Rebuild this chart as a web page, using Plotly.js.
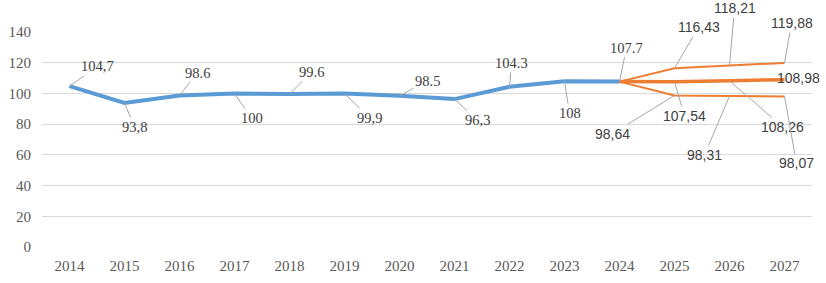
<!DOCTYPE html>
<html>
<head>
<meta charset="utf-8">
<script src="https://cdn.plot.ly/plotly-3.0.1.min.js"></script>
<style>html,body{margin:0;padding:0;background:#fff;}#chart{width:826px;height:283px;}</style>
</head>
<body>
<div id="chart"></div>
<script>
// ---- data ----
const years = ['2014','2015','2016','2017','2018','2019','2020','2021','2022','2023','2024','2025','2026','2027'];
const histYears = ['2014','2015','2016','2017','2018','2019','2020','2021','2022','2023','2024'];
const histValues = [104.7, 93.8, 98.6, 100, 99.6, 99.9, 98.5, 96.3, 104.3, 108, 107.7];
const histLabels = ['104,7','93,8','98.6','100','99.6','99,9','98.5','96,3','104.3','108','107.7'];
const fcYears = ['2024','2025','2026','2027'];
const fcHigh = [107.7, 116.43, 118.21, 119.88];
const fcMid = [107.7, 107.54, 108.26, 108.98];
const fcLow = [107.7, 98.64, 98.31, 98.07];
const fcHighLabels = ['116,43','118,21','119,88'];
const fcMidLabels = ['107,54','108,26','108,98'];
const fcLowLabels = ['98,64','98,31','98,07'];
const yTicks = [0,20,40,60,80,100,120,140];
const yGrid = [0,20,40,60,80,100,120];

// ---- label offsets (style) ----
const histOffsets = [[28,-20],[10,24],[18,-23],[17,25],[22,-22],[25,24],[28,-15],[23,21],[2,-24],[5,32],[7,-34]];
const highOffsets = [[24,-41],[5,-57],[7,-40]];
const midOffsets = [[10,34],[53,46],null];
const lowOffsets = [[-62,38],[-25,59],[12,67]];

const blue = '#5B9BD5', orange = '#ED7D31';
const serif = '"Liberation Serif", "Times New Roman", "DejaVu Serif", serif';
const sans = '"Liberation Sans", Arial, sans-serif';

const traces = [
  {x: fcYears, y: fcHigh, mode:'lines', line:{color:orange, width:2}, hoverinfo:'skip', yaxis:'y'},
  {x: fcYears, y: fcLow, mode:'lines', line:{color:orange, width:2}, hoverinfo:'skip', yaxis:'y'},
  {x: fcYears, y: fcMid, mode:'lines', line:{color:orange, width:3.5}, hoverinfo:'skip', yaxis:'y'},
  {x: histYears, y: histValues, mode:'lines', line:{color:blue, width:4}, hoverinfo:'skip', yaxis:'y2'}
];

const annotations = [];
function addLab(yr, y, text, off, fam, size) {
  if (off) {
    annotations.push({x: years.indexOf(yr), y: y, xref:'x', yref:'y', text: text, showarrow: true,
      ax: off[0], ay: off[1], arrowhead: 0, arrowwidth: 1, arrowcolor: '#a6a6a6', standoff: 0,
      font: {family: fam, size: size, color: '#404040'}});
  }
}
for (let i = 0; i < histYears.length; i++) addLab(histYears[i], histValues[i], histLabels[i], histOffsets[i], serif, 14.5);
for (let i = 1; i < fcYears.length; i++) {
  addLab(fcYears[i], fcHigh[i], fcHighLabels[i-1], highOffsets[i-1], sans, 14);
  addLab(fcYears[i], fcMid[i], fcMidLabels[i-1], midOffsets[i-1], sans, 14);
  addLab(fcYears[i], fcLow[i], fcLowLabels[i-1], lowOffsets[i-1], sans, 14);
}
annotations.push({x: years.indexOf(fcYears[3]), y: fcMid[3], xref:'x', yref:'y', text: fcMidLabels[2], showarrow: false,
  xshift: 14, yshift: 2, font: {family: sans, size: 14, color: '#404040'}});

const layout = {
  width:826, height:283,
  margin:{l:42, r:14, t:31.5, b:35.7, pad:0},
  paper_bgcolor:'#fff', plot_bgcolor:'#fff',
  showlegend:false,
  xaxis:{type:'category', categoryorder:'array', categoryarray:years, range:[-0.5,13.5],
    showgrid:false, zeroline:false, showline:false, ticks:'', ticklabelstandoff:8,
    tickfont:{family:serif, size:15, color:'#595959'}},
  yaxis:{range:[0,140], tickvals:yTicks, showgrid:false, zeroline:false, showline:false, ticks:'',
    ticklabelstandoff:10, tickfont:{family:serif, size:15, color:'#595959'}},
  yaxis2:{overlaying:'y', range:[0,140], tickvals:yGrid, showticklabels:false, showgrid:true,
    gridcolor:'#d9d9d9', gridwidth:1, zeroline:false, showline:false, ticks:''},
  annotations: annotations
};

Plotly.newPlot('chart', traces, layout, {displayModeBar:false, staticPlot:true});
</script>
</body>
</html>
